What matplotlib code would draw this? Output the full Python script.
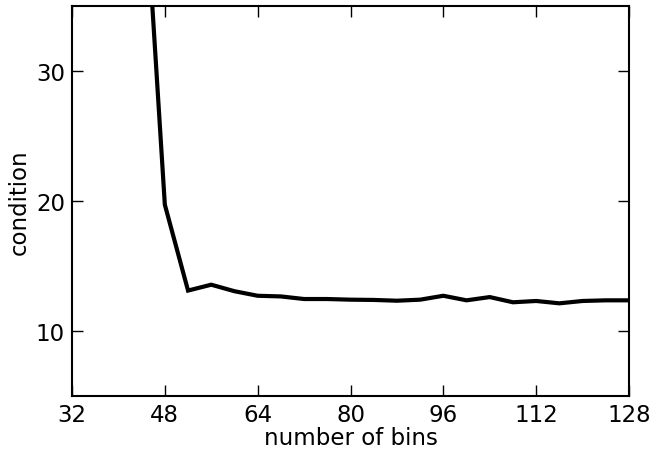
import matplotlib
matplotlib.use("Agg")
import matplotlib.pyplot as plt

bins = [44, 48, 52, 56, 60, 64, 68, 72, 76, 80, 84, 88, 92, 96, 100, 104, 108, 112, 116, 120, 124, 128]
condition = [48.0, 19.7, 13.1, 13.55, 13.05, 12.7, 12.65, 12.45, 12.45, 12.4, 12.38, 12.32, 12.4, 12.7, 12.35, 12.6, 12.2, 12.3, 12.12, 12.3, 12.35, 12.35]
xticks = [32, 48, 64, 80, 96, 112, 128]
yticks = [10, 20, 30]

fig = plt.figure(figsize=(6.56, 4.52), dpi=100)
ax = fig.add_axes([72/656, 1-397/452, (629-72)/656, (397-6.5)/452])
ax.plot(bins, condition, color="black", lw=3, solid_joinstyle="miter")
ax.set_xlim(32, 128)
ax.set_ylim(5, 35)
ax.set_xticks(xticks)
ax.set_yticks(yticks)
ax.tick_params(direction="in", length=8, width=1, top=True, right=True, labelsize=16.5, pad=5, color="black")
ax.tick_params(axis="x", pad=5)
ax.set_xlabel("number of bins", fontsize=16.5, labelpad=0)
ax.set_ylabel("condition", fontsize=16.5, labelpad=4)
for s in ax.spines.values():
    s.set_linewidth(1.5)
fig.savefig("out.png", dpi=100)
